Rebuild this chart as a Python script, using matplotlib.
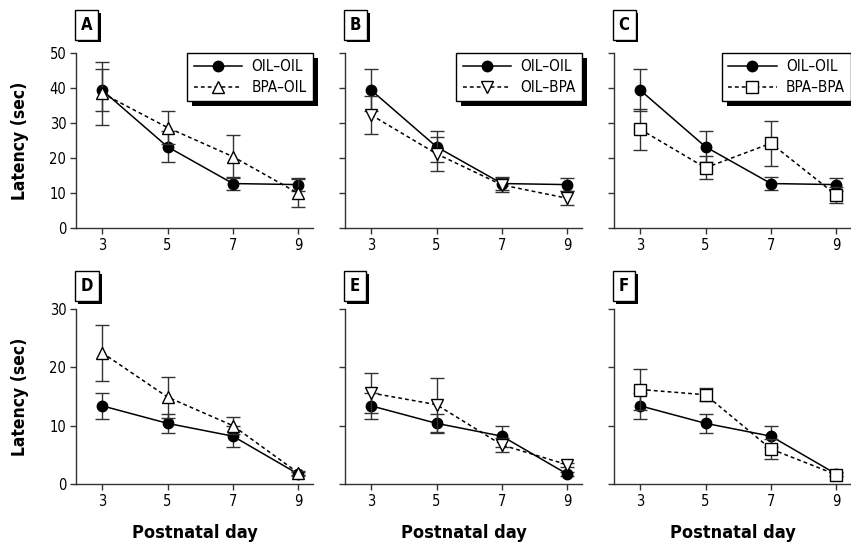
import matplotlib
matplotlib.use("Agg")
import matplotlib.pyplot as plt
import matplotlib.patheffects as pe
from matplotlib import font_manager

# Data
days = [3, 5, 7, 9]

# OIL-OIL control group (same in every panel of a row)
oil_oil_top = [39.4, 23.2, 12.7, 12.4]
oil_oil_top_err = [6.0, 4.4, 1.9, 1.9]
oil_oil_bottom = [13.4, 10.4, 8.2, 1.7]
oil_oil_bottom_err = [2.2, 1.6, 1.8, 0.3]

# Top row treatment groups
bpa_oil_top = [38.5, 28.7, 20.4, 9.9]
bpa_oil_top_err = [9.0, 4.7, 6.1, 4.0]
oil_bpa_top = [32.3, 21.2, 12.3, 8.5]
oil_bpa_top_err = [5.3, 4.8, 2.0, 2.0]
bpa_bpa_top = [28.2, 17.2, 24.2, 9.4]
bpa_bpa_top_err = [5.8, 3.3, 6.5, 2.3]

# Bottom row treatment groups
bpa_oil_bottom = [22.5, 14.9, 10.0, 1.9]
bpa_oil_bottom_err = [4.8, 3.5, 1.5, 0.3]
oil_bpa_bottom = [15.6, 13.6, 6.7, 3.3]
oil_bpa_bottom_err = [3.4, 4.6, 1.2, 0.3]
bpa_bpa_bottom = [16.2, 15.3, 6.0, 1.6]
bpa_bpa_bottom_err = [3.5, 1.1, 1.7, 0.3]

panel_letters = ["A", "B", "C", "D", "E", "F"]
group_labels = ["BPA\u2013OIL", "OIL\u2013BPA", "BPA\u2013BPA"]
control_label = "OIL\u2013OIL"
xlab = "Postnatal day"
ylab = "Latency (sec)"

# Narrow font if one exists, otherwise condensed DejaVu
names = {f.name for f in font_manager.fontManager.ttflist}
if "Liberation Sans Narrow" in names:
    plt.rcParams["font.family"] = ["Liberation Sans Narrow", "DejaVu Sans"]
else:
    plt.rcParams["font.family"] = ["DejaVu Sans"]
    plt.rcParams["font.stretch"] = "condensed"

MARKERS = ["^", "v", "s"]
MSIZES = [9, 9, 8]


def draw_panel(ax, ctrl, ctrl_err, grp, grp_err, mi, ymax, yticks, letter,
               letter_y, show_legend, label):
    """
    Draw one panel: control (filled circles) and treatment (open markers).
    """
    c1 = ax.errorbar(days, ctrl, yerr=ctrl_err, color="k", ecolor="#333333",
                     marker="o", markersize=7.5, linestyle="-", linewidth=1.1,
                     elinewidth=1, capsize=5, capthick=1, zorder=3)
    c2 = ax.errorbar(days, grp, yerr=grp_err, color="k", ecolor="#333333",
                     marker=MARKERS[mi], markersize=MSIZES[mi], mfc="w",
                     mec="k", mew=1, linestyle=(0, (2.5, 2)), linewidth=1.1,
                     elinewidth=1, capsize=5, capthick=1, zorder=4)

    # Axes styling
    ax.set_xlim(2.2, 9.45)
    ax.set_ylim(0, ymax)
    ax.set_xticks(days)
    ax.set_yticks(yticks)
    for side in ["top", "right"]:
        ax.spines[side].set_visible(False)
    for side in ["left", "bottom"]:
        ax.spines[side].set_linewidth(1)
        ax.spines[side].set_color("#333333")
    ax.tick_params(direction="out", length=4, width=1, color="#333333",
                   labelsize=10.5, pad=3)

    # Panel letter with shadowed box
    t = ax.text(0.02, letter_y, letter, transform=ax.transAxes, ha="left",
                va="bottom", fontsize=12, fontweight="bold",
                bbox=dict(boxstyle="square,pad=0.35", fc="w", ec="k", lw=1))
    t.get_bbox_patch().set_path_effects(
        [pe.withSimplePatchShadow(offset=(2, -2), shadow_rgbFace="k",
                                  alpha=1.0)])

    if show_legend:
        leg = ax.legend([c1[0], c2[0]], [control_label, label],
                        loc="upper right", bbox_to_anchor=(1.0, 1.0),
                        borderaxespad=0.0, fancybox=False, framealpha=1,
                        edgecolor="k", fontsize=11, handlelength=3.2,
                        handletextpad=0.6, labelspacing=0.4,
                        borderpad=0.4)
        leg.get_frame().set_linewidth(1)
        leg.get_frame().set_path_effects(
            [pe.withSimplePatchShadow(offset=(3.5, -3.5), shadow_rgbFace="k",
                                      alpha=1.0)])


def main():
    fig = plt.figure(figsize=(8.51, 5.42), dpi=100)

    lefts = [76 / 851, 345 / 851, 614 / 851]
    width = 237 / 851
    height = 175 / 542
    bottoms = [1 - 228 / 542, 1 - 484 / 542]

    top_groups = [(bpa_oil_top, bpa_oil_top_err),
                  (oil_bpa_top, oil_bpa_top_err),
                  (bpa_bpa_top, bpa_bpa_top_err)]
    bottom_groups = [(bpa_oil_bottom, bpa_oil_bottom_err),
                     (oil_bpa_bottom, oil_bpa_bottom_err),
                     (bpa_bpa_bottom, bpa_bpa_bottom_err)]

    for col in range(3):
        # Top row
        ax = fig.add_axes([lefts[col], bottoms[0], width, height])
        draw_panel(ax, oil_oil_top, oil_oil_top_err, top_groups[col][0],
                   top_groups[col][1], col, 50, [0, 10, 20, 30, 40, 50],
                   panel_letters[col], 1.11, True, group_labels[col])
        if col == 0:
            ax.set_ylabel(ylab, fontsize=12.5, fontweight="bold")
            ax.yaxis.set_label_coords(-0.2, 0.5)
        else:
            ax.set_yticklabels([])

        # Bottom row
        ax = fig.add_axes([lefts[col], bottoms[1], width, height])
        draw_panel(ax, oil_oil_bottom, oil_oil_bottom_err,
                   bottom_groups[col][0], bottom_groups[col][1], col, 30,
                   [0, 10, 20, 30], panel_letters[col + 3], 1.08, False,
                   group_labels[col])
        if col == 0:
            ax.set_ylabel(ylab, fontsize=12.5, fontweight="bold")
            ax.yaxis.set_label_coords(-0.2, 0.5)
        else:
            ax.set_yticklabels([])
        ax.set_xlabel(xlab, fontsize=13, fontweight="bold")
        ax.xaxis.set_label_coords(0.5, -0.23)

    fig.savefig("out.png", dpi=100)


if __name__ == "__main__":
    main()
